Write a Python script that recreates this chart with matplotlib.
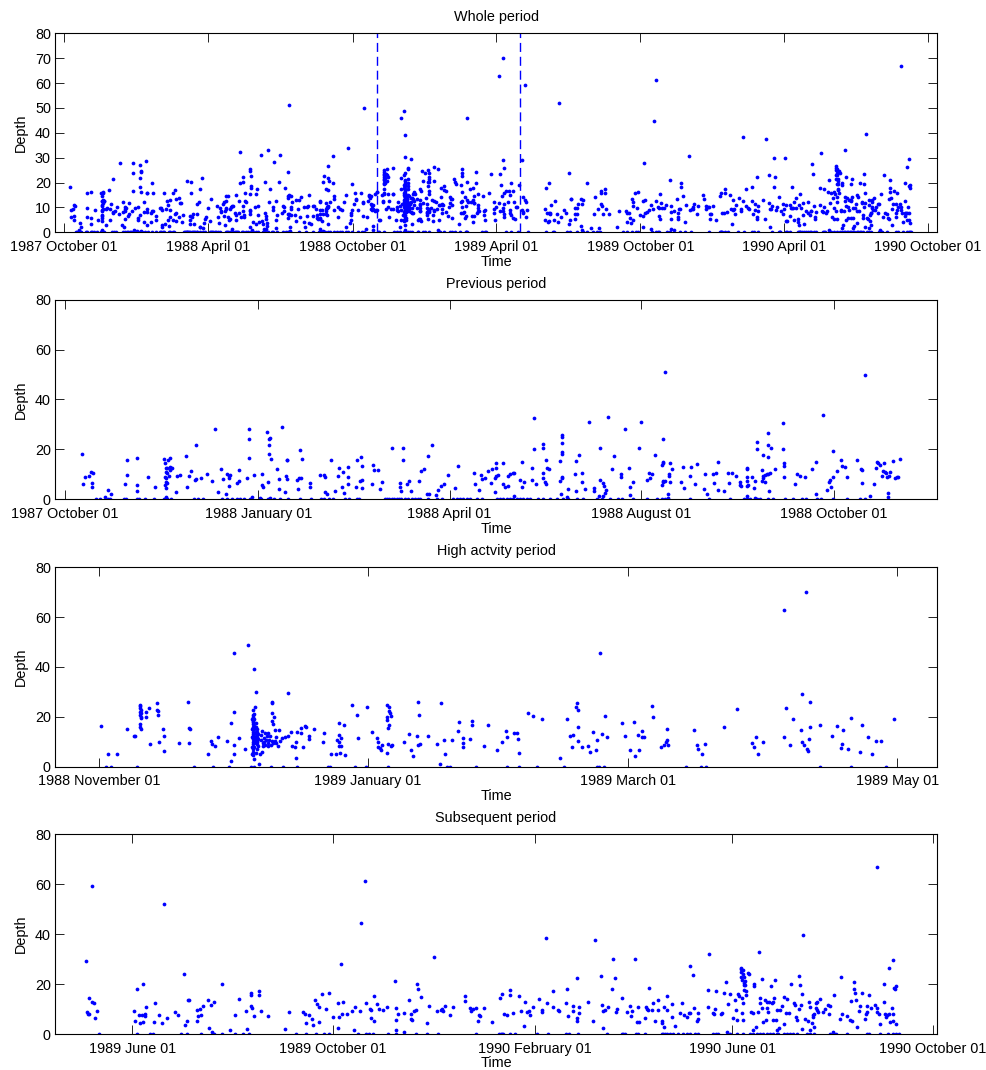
import numpy as np
import matplotlib
matplotlib.use("Agg")
import matplotlib.pyplot as plt
import matplotlib.dates as mdates

plt.rcParams['font.family'] = ['Liberation Sans', 'DejaVu Sans']
plt.rcParams['font.size'] = 10.4

# ---------------- data ----------------
# Previous period: days since 1987-10-01
prev_start = '1987-10-01'
prev_day = [
    7.9, 8.7, 9.5, 11.4, 12.4, 13.5, 12.7, 12.7, 19.0, 20.6,
    21.7, 28.6, 29.4, 29.7, 34.0, 34.0, 34.0, 39.4, 42.9, 47.3,
    47.6, 47.9, 48.1, 47.6, 47.9, 48.1, 47.6, 48.1, 48.4, 48.6,
    48.7, 49.2, 49.7, 49.7, 50.0, 50.3, 50.8, 49.5, 48.1, 47.8,
    52.7, 53.3, 54.8, 57.6, 57.9, 59.0, 59.8, 61.6, 62.1, 62.5,
    64.9, 67.5, 69.7, 71.4, 73.0, 74.3, 75.0, 76.7, 77.3, 77.8,
    77.9, 78.0, 78.6, 81.6, 82.7, 83.0, 86.8, 87.4, 87.4, 87.4,
    89.0, 89.7, 92.9, 93.7, 93.8, 94.4, 96.3, 96.8, 96.9, 97.1,
    97.4, 96.9, 97.9, 97.3, 101.0, 101.7, 102.0, 103.4, 104.9, 105.0,
    105.5, 105.8, 105.8, 110.3, 110.8, 111.1, 111.6, 112.3, 112.8, 116.6,
    116.6, 121.4, 123.4, 123.8, 123.8, 124.6, 126.7, 128.6, 129.8, 130.4,
    132.0, 132.5, 132.6, 134.5, 134.5, 134.5, 138.7, 138.8, 140.4, 140.7,
    141.5, 141.5, 141.5, 146.3, 146.5, 146.8, 148.7, 150.1, 151.0, 155.8,
    159.4, 159.4, 159.8, 160.7, 160.7, 162.9, 163.6, 164.7, 168.5, 169.3,
    170.8, 172.2, 172.8, 173.1, 174.7, 176.4, 177.5, 178.8, 180.5, 182.3,
    185.6, 186.9, 194.5, 195.3, 196.9, 198.1, 198.6, 199.7, 201.4, 202.6,
    203.4, 204.5, 204.5, 205.0, 205.3, 205.0, 206.0, 208.6, 208.6, 209.2,
    210.7, 210.9, 211.7, 213.3, 213.5, 213.9, 216.7, 217.6, 217.6, 218.4,
    222.0, 222.4, 223.4, 223.4, 224.0, 227.4, 227.4, 227.7, 227.6, 228.6,
    228.9, 229.1, 229.5, 230.3, 235.6, 235.6, 236.4, 236.4, 236.4, 236.5,
    236.7, 236.7, 236.7, 236.2, 238.8, 239.5, 242.6, 243.3, 243.4, 244.8,
    245.9, 246.1, 247.5, 249.5, 251.6, 251.9, 253.9, 254.5, 254.6, 255.8,
    256.2, 256.6, 256.9, 257.3, 258.6, 260.2, 261.1, 264.6, 264.6, 266.6,
    268.6, 268.8, 268.9, 270.4, 273.2, 273.9,
    276.9, 278.0, 278.5, 279.2, 280.8, 284.0, 284.3, 284.5, 284.5, 284.6,
    284.8, 284.8, 285.6, 285.6, 286.8, 287.5, 287.6, 287.9, 288.1, 288.8,
    287.2, 293.3, 294.3, 294.8, 297.2, 298.0, 299.9, 301.0, 304.0, 304.6,
    305.3, 308.4, 308.8, 310.0, 310.7, 310.8, 313.7, 315.6, 316.2, 317.3,
    319.4, 321.1, 321.3, 321.6, 324.4, 324.6, 324.4, 324.7, 324.6, 325.2,
    324.6, 327.0, 327.8, 328.3, 328.6, 329.1, 329.4, 331.9, 332.1, 331.9,
    332.1, 332.4, 333.2, 333.3, 334.0, 334.4, 334.4, 334.6, 334.8, 334.9,
    335.4, 335.9, 337.8, 341.6, 341.8, 342.1, 342.1, 342.4, 347.4, 348.2,
    350.0, 352.2, 355.7, 357.4, 357.4, 360.8, 362.5, 363.8, 364.1, 364.6,
    365.3, 365.7, 367.3, 369.5, 370.0, 371.0, 372.4, 376.8, 379.0, 379.3,
    379.5, 380.5, 383.3, 384.9, 386.2, 386.5, 386.8, 387.9, 389.0, 389.2,
    389.8, 390.3, 390.8, 391.1, 391.5, 391.9, 392.0, 392.5, 394.2, 395.0,
    395.8, 396.6, 397.4,
]
prev_depth = [
    18.2, 6.1, 9.1, 9.3, 10.8, 10.5, 6.7, 5.1, 1.0, 3.7,
    2.3, 6.0, 9.6, 15.8, 16.4, 5.6, 3.5, 8.9, 4.8, 16.0,
    14.4, 12.7, 11.1, 9.1, 8.4, 7.1, 5.7, 4.4, 6.4, 10.4,
    12.7, 15.8, 13.1, 11.7, 16.4, 12.4, 12.7, 9.5, 0.4, 0.9,
    3.1, 9.2, 9.9, 17.2, 4.9, 9.2, 11.5, 7.6, 8.1, 21.6,
    8.7, 10.3, 7.3, 28.0, 3.1, 12.3, 8.3, 2.1, 10.0, 5.5,
    8.4, 9.5, 9.6, 6.4, 7.3, 11.7, 8.4, 28.0, 24.0, 16.7,
    0.8, 9.7, 0.4, 10.1, 5.6, 5.1, 27.0, 6.8, 21.8, 24.2,
    24.6, 18.2, 16.2, 0.4, 12.3, 8.0, 4.0, 28.8, 2.9, 9.2,
    15.9, 15.6, 8.0, 7.9, 4.1, 8.7, 19.8, 8.7, 16.0, 6.4,
    4.9, 9.7, 9.6, 9.1, 3.1, 2.3, 15.6, 3.5, 9.2, 12.7,
    5.1, 11.1, 2.4, 13.1, 9.1, 6.3, 5.1, 15.8, 7.5, 17.1,
    13.5, 7.9, 4.7, 6.0, 13.8, 11.7, 11.7, 4.0, 7.1, 20.7,
    6.4, 5.1, 3.5, 20.4, 15.6, 6.0, 7.5, 3.5, 7.2, 11.2,
    12.3, 2.0, 17.5, 2.0, 21.9, 1.7, 3.7, 5.2, 6.1, 9.6,
    4.7, 13.5, 10.5, 6.1, 3.9, 9.9, 8.3, 8.7, 11.5, 6.7,
    12.3, 8.4, 2.8, 12.7, 9.3, 14.4, 9.9, 14.4, 6.3, 4.8,
    9.2, 5.5, 10.0, 10.5, 1.5, 10.4, 7.7, 4.8, 15.1, 6.8,
    7.7, 12.4, 32.4, 20.0, 6.3, 8.4, 20.4, 22.3, 10.4, 7.1,
    6.3, 15.8, 12.7, 12.1, 7.5, 15.4, 8.5, 9.1, 25.6, 24.8,
    22.6, 18.8, 18.0, 2.1, 0.8, 4.0, 10.0, 15.4, 3.5, 17.6,
    10.5, 6.8, 4.0, 31.1, 4.7, 3.5, 1.5, 20.4, 7.9, 6.4,
    1.5, 5.3, 2.4, 3.7, 33.1, 12.0, 17.5, 8.9, 10.0, 28.3,
    12.4, 4.9, 1.7, 7.1, 20.4, 31.1,
    7.7, 10.7, 8.4, 10.0, 17.9, 5.7, 13.8, 14.4, 7.5, 24.3,
    14.8, 7.1, 51.1, 7.3, 2.1, 10.1, 9.3, 7.1, 14.6, 12.3,
    0.4, 6.9, 13.1, 4.7, 9.2, 12.8, 6.0, 14.2, 4.1, 10.1,
    2.3, 10.3, 6.5, 10.5, 15.1, 3.9, 3.3, 10.4, 6.4, 10.4,
    9.3, 6.8, 5.7, 5.3, 12.7, 12.0, 9.1, 7.3, 5.3, 5.7,
    1.3, 9.1, 4.5, 0.4, 7.5, 20.3, 22.8, 7.5, 17.6, 11.7,
    8.4, 9.5, 9.7, 7.1, 10.0, 26.7, 21.8, 17.0, 10.3, 3.3,
    10.5, 20.7, 12.0, 30.6, 20.0, 14.7, 13.4, 8.8, 6.0, 10.1,
    9.5, 9.1, 12.0, 15.1, 2.3, 33.8, 3.6, 6.9, 7.7, 4.8,
    9.1, 19.5, 11.3, 15.6, 13.4, 13.1, 9.1, 15.6, 12.0, 11.6,
    6.4, 49.9, 1.5, 6.0, 12.7, 15.1, 14.4, 13.6, 9.3, 11.5,
    14.7, 11.1, 10.7, 8.8, 2.4, 0.9, 9.2, 11.0, 15.4, 8.7,
    8.8, 8.9, 16.2,
]
prev_zero_day = [
    14.8, 16.7, 20.6, 21.4, 28.1, 29.0, 34.1, 35.1, 38.1, 42.1, 47.1, 48.4,
    50.3, 61.4, 63.3, 65.6, 74.6, 77.0, 79.4, 81.7, 83.3, 85.2, 88.1, 93.2,
    96.8, 99.2, 102.4, 106.3, 111.9, 117.0, 121.9, 123.0, 125.4, 127.3,
    133.3, 134.9, 138.8, 139.9, 152.3, 153.4, 154.4, 155.5, 156.6, 157.9,
    159.0, 159.9, 161.8, 163.4, 165.0, 166.6, 168.2, 169.0, 172.9, 176.9,
    179.3, 184.8, 186.4, 188.0, 189.6, 191.2, 192.8, 195.9, 198.3, 205.5,
    207.0, 208.6, 210.2, 211.8, 213.4, 215.0, 216.6, 218.1, 219.7, 221.3,
    225.3, 227.7, 230.8, 234.0, 237.2, 239.6, 243.5, 246.7, 253.0, 255.4,
    259.4, 263.4, 265.0, 270.5,
    277.2, 281.6, 284.0, 285.3, 287.2, 297.5, 306.4, 316.5, 323.3, 324.5,
    326.0, 329.2, 330.8, 334.8, 337.1, 342.7, 346.3, 350.6, 352.7, 357.8,
    359.7, 365.7, 372.4, 378.4, 380.8,
]

# High activity period: days since 1988-11-01
high_start = '1988-11-01'
high_day = [
    0.5, 2.1, 4.1, 6.4, 7.9, 8.2, 9.2, 9.2, 9.3, 9.4,
    9.2, 9.4, 9.2, 9.4, 9.5, 9.2, 9.3, 9.5, 10.6, 10.7,
    11.3, 11.5, 13.1, 13.2, 13.4, 13.3, 13.5, 14.6, 14.8, 14.7,
    18.2, 20.2, 20.3, 20.6, 20.4, 24.7, 25.3, 25.6, 26.3, 27.0,
    29.0, 29.8, 30.0, 30.6, 30.6, 30.6, 30.6, 31.8, 33.0, 33.8,
    34.6, 34.6, 34.6, 34.6, 34.6, 34.8, 34.8, 34.8, 34.8, 34.8,
    34.8, 34.8, 35.0, 35.0, 35.0, 35.0, 35.0, 35.0, 35.0, 35.0,
    35.0, 35.0, 35.2, 35.2, 35.2, 35.2, 35.2, 35.2, 35.2, 35.2,
    35.2, 35.2, 35.3, 35.5, 35.5, 35.5, 35.5, 35.5, 35.5, 35.5,
    35.5, 35.5, 35.7, 35.7, 35.7, 35.7, 35.7, 35.9, 35.9, 35.9,
    35.9, 36.1, 36.1, 36.1, 36.2, 36.4, 36.9, 36.6, 36.7, 37.0,
    37.1, 37.2, 37.4, 37.4, 37.6, 37.7, 37.9, 38.0, 38.2, 38.3,
    38.4, 38.6, 38.7, 38.9, 39.1, 39.1, 39.2, 39.2, 39.3, 39.5,
    39.5, 39.7, 39.9, 39.9, 40.1, 40.2, 40.6, 40.7, 41.0, 41.5,
    42.1, 42.8, 42.9, 43.6, 43.8, 44.4, 44.6, 44.6, 44.8, 45.8,
    45.8, 46.3, 46.7, 47.0, 47.6, 47.6, 48.7, 50.7, 50.9, 52.6,
    53.8, 54.0, 54.3, 54.3, 54.4, 54.5,
    54.8, 54.8, 54.7, 55.6, 55.7, 57.4, 58.4, 58.7, 60.8, 61.9,
    63.1, 63.3, 63.3, 63.7, 63.9, 64.2, 65.2, 65.2, 65.2, 65.2,
    65.6, 65.6, 65.7, 65.7, 65.8, 65.9, 66.2, 66.2, 66.5, 69.1,
    70.2, 70.8, 71.2, 72.1, 72.4, 72.4, 72.6, 72.7, 74.5, 76.6,
    77.4, 77.5, 78.1, 78.5, 80.1, 81.3, 81.6, 82.6, 82.6, 82.6,
    84.0, 84.5, 84.5, 87.3, 88.2, 90.3, 91.3, 92.2, 92.6, 94.1,
    94.7, 95.0, 95.3, 97.3, 98.5, 100.5, 104.5, 106.2, 106.7, 107.2,
    107.4, 108.1, 108.4, 108.5, 108.5, 108.5, 109.5, 110.8, 111.3, 112.0,
    112.7, 112.9, 113.6, 114.0, 114.7, 115.2, 118.6, 119.2, 120.4, 121.4,
    121.6, 122.2, 122.5,
    123.0, 123.2, 123.6, 125.4, 125.7, 127.4, 128.2, 128.5, 128.7, 128.8,
    129.0, 135.0, 135.6, 135.7, 136.6, 137.5, 141.7, 144.7, 148.1, 148.6,
    149.0, 149.4, 150.5, 155.2, 155.4, 155.7, 156.7, 157.4, 159.1, 159.4,
    159.4, 159.8, 160.4, 160.6, 160.8, 161.0, 161.3, 161.3, 163.4, 166.3,
    167.3, 168.2, 168.4, 168.7, 169.9, 170.4, 172.5, 172.9, 174.4, 175.3,
    176.1, 177.4, 180.2,
]
high_depth = [
    16.2, 4.9, 4.9, 15.0, 12.2, 12.4, 24.9, 24.2, 23.5, 22.9,
    22.1, 21.5, 20.9, 19.9, 19.5, 17.3, 15.8, 15.3, 21.9, 19.9,
    23.5, 9.2, 25.6, 22.9, 22.2, 20.6, 10.0, 15.3, 12.4, 6.2,
    9.4, 26.0, 15.5, 15.3, 9.5, 4.9, 10.2, 9.0, 8.4, 12.0,
    10.4, 2.3, 17.4, 45.8, 21.8, 8.8, 4.9, 11.4, 7.1, 48.8,
    5.0, 8.0, 12.0, 15.0, 19.0, 22.9, 4.5, 7.0, 10.0, 13.0,
    16.0, 18.0, 20.7, 6.0, 9.0, 11.0, 12.5, 14.0, 15.5, 17.0,
    18.5, 20.0, 39.1, 3.0, 8.0, 10.5, 12.0, 13.5, 15.0, 16.5,
    19.0, 21.0, 23.9, 30.1, 5.5, 9.5, 11.0, 12.0, 13.0, 14.0,
    16.0, 17.5, 10.0, 11.5, 13.0, 15.0, 7.0, 9.0, 12.0, 14.0,
    10.5, 11.0, 13.0, 8.5, 0.9, 4.9, 5.8, 10.8, 12.8, 14.2,
    9.5, 8.2, 11.5, 9.8, 13.5, 8.8, 10.8, 12.4, 9.5, 8.4,
    13.5, 10.6, 12.2, 8.8, 21.4, 26.0, 25.6, 10.2, 18.5, 9.5,
    17.3, 19.9, 10.4, 14.8, 11.9, 9.5, 8.4, 14.6, 10.2, 11.5,
    11.8, 29.6, 12.2, 13.9, 8.2, 7.8, 9.8, 3.5, 13.9, 13.5,
    15.5, 7.8, 16.2, 15.9, 12.4, 11.1, 15.3, 9.8, 13.5, 4.9,
    5.2, 10.8, 17.5, 12.8, 9.8, 8.4,
    11.5, 8.4, 5.5, 16.7, 4.5, 24.7, 20.6, 11.6, 23.9, 13.9,
    11.4, 9.8, 8.0, 7.6, 6.8, 8.7, 5.5, 24.9, 20.1, 18.6,
    15.5, 9.2, 23.9, 16.6, 22.2, 21.5, 20.2, 8.2, 8.6, 9.8,
    13.1, 6.8, 4.4, 12.4, 26.1, 8.6, 20.6, 9.1, 12.2, 9.2,
    1.1, 25.4, 10.8, 4.9, 10.8, 14.2, 17.9, 11.4, 9.4, 7.8,
    11.0, 18.5, 16.9, 8.2, 16.6, 6.6, 10.0, 14.2, 11.8, 13.4,
    13.4, 11.1, 5.6, 21.4, 20.3, 19.3, 3.3, 19.0, 12.2, 7.9,
    12.6, 23.9, 25.6, 22.6, 16.1, 10.3, 7.8, 8.2, 5.9, 14.0,
    6.7, 10.7, 45.8, 13.1, 20.2, 12.0, 17.4, 12.3, 6.6, 17.9,
    4.3, 12.8, 6.7,
    14.4, 11.9, 11.8, 24.2, 19.9, 7.9, 8.6, 9.8, 15.3, 10.8,
    8.6, 14.6, 8.6, 7.1, 5.1, 9.1, 15.8, 23.3, 9.4, 7.8,
    12.0, 4.9, 10.0, 62.7, 11.8, 23.5, 8.6, 19.1, 14.7, 29.0,
    9.8, 8.6, 70.1, 7.2, 6.2, 11.2, 25.8, 15.8, 16.6, 12.3,
    16.5, 7.6, 9.1, 14.8, 7.1, 19.7, 5.8, 16.7, 12.0, 5.2,
    10.2, 10.2, 19.0,
]
high_zero_day = [
    1.5, 2.6, 8.7, 21.6, 25.8, 29.5, 34.4, 35.2, 39.0, 41.7, 44.8, 51.9,
    52.3, 58.0, 60.5, 65.6, 79.0, 79.6, 85.4, 92.5, 95.3, 99.4, 105.5,
    112.8, 113.4, 114.5, 133.1, 136.5, 137.7, 163.5, 170.4, 178.4,
]

# Subsequent period: days since 1989-05-01
sub_start = '1989-05-01'
sub_day = [
    2.6, 3.2, 3.8, 4.8, 4.8, 6.3, 6.5, 7.9, 8.5, 9.7,
    32.2, 32.4, 33.6, 35.3, 35.7, 36.7, 37.7, 37.7, 38.7, 38.9,
    39.3, 44.0, 45.0, 47.4, 49.2, 50.5, 52.3, 56.7, 58.9, 62.6,
    63.2, 64.3, 64.7, 65.3, 70.5, 70.5, 70.7, 72.2, 72.6, 73.8,
    77.2, 77.6, 78.9, 79.5, 80.7, 85.3, 90.4, 93.7, 95.9, 99.9,
    100.5, 103.0, 103.0, 103.0, 104.0, 105.2, 108.0, 108.0, 109.3, 113.5,
    124.0, 126.1, 134.8, 136.0, 136.4, 138.3, 140.1, 141.1, 142.3, 143.5,
    144.3, 144.3, 146.2, 148.6, 150.4, 153.1, 156.3, 156.3, 156.9,
    157.9, 158.5, 158.9, 161.4, 164.4, 166.0, 166.2, 169.7, 170.1, 172.7,
    173.2, 175.8, 176.2, 176.2, 178.0, 178.2, 179.7, 180.9, 183.7, 186.2,
    191.0, 191.4, 191.4, 191.4, 192.4, 196.3, 196.3, 199.1, 200.3, 200.7,
    201.1, 202.6, 203.6, 204.2, 205.0, 206.6, 210.1, 211.3, 214.3, 216.3,
    219.0, 219.6, 220.2, 221.2, 224.5, 226.3, 233.2, 233.4, 236.4, 236.9,
    238.5, 239.9, 241.1, 241.7, 242.6, 245.2, 249.5, 254.7, 255.7, 257.0,
    259.0, 260.8, 260.8, 262.4, 266.4, 267.5, 269.3, 270.1, 270.9, 272.1,
    272.9, 274.8, 278.6, 280.2, 280.2, 282.7, 283.1, 286.7, 287.1, 290.0,
    290.7, 294.6, 295.2, 296.0, 298.9, 298.9, 301.3, 301.3, 301.5, 302.5,
    302.9, 308.4, 311.2, 312.3, 315.9, 316.7, 317.2, 317.4, 318.2, 320.6,
    322.6, 323.1, 324.3, 325.1, 325.9, 328.9, 332.0, 333.8, 334.6, 335.2,
    336.9, 337.8, 338.3, 339.1,
    342.9, 343.5, 343.9, 344.9, 345.3, 346.9, 347.9, 348.6, 350.6, 351.0,
    353.1, 353.3, 354.3, 354.5, 356.1, 356.5, 359.3, 359.1, 360.9, 363.8,
    365.6, 366.4, 368.6, 369.6, 370.2, 370.4, 372.3, 372.9, 374.3, 374.9,
    375.3, 380.9, 381.9, 380.9, 383.9, 384.7, 385.5, 386.2, 389.0, 389.6,
    390.8, 391.8, 392.4, 393.4, 394.6, 396.1, 397.5, 398.3, 398.5, 399.2,
    399.8, 400.9, 401.3, 401.5, 401.3, 401.7, 402.3, 402.7, 403.1, 403.3,
    402.9, 403.7, 403.9, 403.3, 404.1, 404.5, 402.1, 401.9, 402.3, 402.7,
    405.7, 406.1, 407.1, 408.2, 408.8, 409.0, 409.2, 410.2, 411.4, 412.2,
    412.8, 413.0, 413.8, 414.0, 414.4, 415.7, 416.3, 416.9, 417.3, 417.9,
    418.5, 419.7, 419.9, 420.5, 420.9, 421.3, 422.1, 422.3, 422.9, 423.2,
    424.2, 425.0, 426.4, 427.4, 427.4, 428.4, 429.0, 430.5, 431.9, 433.7,
    433.9, 434.9, 435.1, 436.5, 436.7, 437.2, 437.6, 438.0, 438.2, 439.2,
    440.2, 442.2, 442.8, 443.2, 443.2, 444.2, 444.9, 445.1, 445.7, 445.9,
    446.7, 446.7, 447.3, 447.5, 448.3, 449.5, 450.9, 452.0, 454.2, 454.8,
    455.6, 457.2, 457.8, 461.5, 461.9, 462.9, 465.9, 467.4, 468.2, 468.6,
    469.8, 470.0, 470.4, 471.0, 471.8, 472.8, 473.7, 474.5, 476.9, 477.1,
    477.7, 478.1, 478.9, 480.5, 482.8, 483.8, 484.0, 484.2, 485.4, 485.8,
    488.2, 488.2, 488.7, 489.3, 490.1, 491.1, 491.3, 491.9, 493.1, 493.7,
    493.7, 493.9, 494.3, 494.9, 495.3, 495.5,
]
sub_depth = [
    29.2, 8.9, 8.0, 7.9, 14.3, 59.3, 13.0, 12.3, 6.3, 9.1,
    9.3, 5.1, 17.9, 7.6, 4.3, 7.6, 20.0, 4.7, 7.2, 7.9,
    10.8, 4.9, 12.4, 7.5, 4.3, 51.9, 6.3, 8.9, 7.7, 23.9,
    3.5, 5.1, 13.5, 13.5, 9.6, 5.2, 7.2, 9.9, 7.5, 11.3,
    13.5, 2.4, 11.5, 0.9, 12.8, 20.0, 1.7, 7.5, 14.0, 9.3,
    1.9, 16.6, 15.6, 11.3, 10.5, 7.2, 17.4, 15.6, 9.3, 7.2,
    2.0, 8.7, 8.7, 7.9, 4.3, 7.6, 5.9, 3.7, 13.5, 12.0,
    10.7, 4.9, 15.9, 9.9, 16.3, 6.8, 12.6, 2.3, 6.7,
    27.9, 7.9, 13.0, 8.0, 9.1, 1.5, 10.9, 9.3, 44.6, 61.3,
    12.6, 10.1, 9.6, 6.4, 15.2, 5.2, 11.9, 9.9, 9.7, 10.8,
    21.2, 10.4, 5.5, 1.5, 8.0, 8.5, 0.8, 13.5, 7.9, 6.0,
    5.5, 9.3, 9.5, 20.0, 18.2, 14.7, 4.3, 11.1, 30.7, 9.1,
    9.5, 10.0, 9.2, 11.3, 7.5, 10.7, 15.1, 13.4, 10.5, 9.3,
    10.1, 10.3, 5.2, 7.5, 7.3, 10.4, 4.9, 14.4, 16.0, 7.9,
    7.7, 17.5, 15.8, 8.3, 15.1, 9.2, 3.3, 13.0, 8.8, 9.3,
    7.5, 10.8, 13.9, 9.5, 8.7, 38.3, 12.4, 17.4, 10.7, 9.7,
    9.3, 12.4, 18.2, 7.2, 11.2, 9.1, 6.3, 5.3, 22.4, 10.7,
    8.5, 12.8, 5.2, 37.7, 23.2, 11.6, 9.2, 2.3, 9.5, 10.7,
    18.2, 29.9, 22.3, 8.9, 10.0, 14.3, 8.7, 11.3, 7.2, 9.3,
    30.0, 4.7, 10.9, 4.7,
    6.5, 10.9, 9.9, 9.6, 18.4, 9.6, 12.3, 5.1, 9.6, 13.6,
    5.2, 4.3, 10.9, 2.9, 15.4, 9.6, 6.9, 11.9, 3.2, 8.5,
    12.3, 7.7, 6.9, 8.5, 8.5, 27.4, 23.5, 10.4, 5.2, 6.0,
    8.3, 17.8, 31.9, 10.8, 8.5, 8.0, 10.1, 17.4, 7.9, 8.5,
    16.3, 21.0, 0.8, 11.9, 16.0, 6.3, 13.8, 9.6, 5.5, 16.2,
    15.2, 25.9, 26.6, 25.0, 23.0, 21.6, 24.0, 25.6, 23.0, 20.6,
    19.6, 19.6, 21.4, 17.6, 17.1, 15.6, 14.3, 8.5, 5.5, 12.3,
    24.6, 23.9, 8.9, 8.4, 1.6, 20.0, 19.2, 2.9, 8.7, 32.9,
    12.5, 14.3, 22.1, 10.5, 4.9, 13.6, 5.6, 10.3, 13.0, 8.9,
    13.0, 19.4, 12.6, 13.0, 5.6, 14.3, 21.6, 5.6, 9.6, 1.6,
    2.5, 9.7, 11.3, 14.9, 3.9, 8.5, 14.0, 8.5, 19.9, 12.3,
    11.6, 6.9, 5.6, 10.0, 23.4, 19.6, 11.6, 15.9, 2.1, 39.7,
    5.9, 5.3, 13.0, 11.0, 1.6, 4.5, 6.9, 7.6, 7.9, 2.9,
    10.3, 12.3, 9.6, 13.0, 8.9, 13.9, 8.9, 10.0, 11.5, 7.9,
    11.4, 0.9, 15.5, 6.0, 22.9, 7.9, 7.2, 5.6, 13.2, 5.3,
    17.9, 20.9, 16.3, 13.6, 2.9, 9.3, 11.3, 16.5, 6.0, 7.9,
    11.2, 9.0, 15.7, 10.3, 11.5, 10.3, 9.0, 67.0, 7.9, 4.0,
    12.7, 19.9, 7.9, 6.7, 7.6, 7.9, 26.3, 5.0, 10.3, 29.6,
    5.1, 7.9, 18.5, 18.0, 19.2, 3.9,
]
sub_zero_day = [
    10.5, 33.6, 41.7, 43.8, 60.4, 64.3, 72.6, 80.7, 85.3, 93.5, 98.3, 102.0,
    130.6, 136.4, 142.9, 147.6, 150.4,
    168.5, 173.1, 175.2, 177.2, 186.7, 191.2, 203.3, 210.1, 217.2, 239.9,
    254.3, 255.1, 255.9, 256.7, 260.8, 263.8, 277.0, 284.1, 294.8, 296.8,
    302.3, 319.5, 328.7, 329.7, 330.7, 337.4, 338.8,
    342.9, 353.0, 354.0, 355.0, 356.0, 358.1, 360.1, 363.1, 366.2, 368.2,
    370.2, 373.3, 375.3, 384.4, 386.1, 387.5, 394.6, 398.6, 402.7, 406.7,
    408.4, 410.8, 412.8, 414.8, 416.9, 418.9, 420.9, 422.9, 424.0, 427.4,
    429.0, 431.1, 433.1, 435.1, 441.2, 443.2, 445.3, 455.4, 457.8, 459.0,
    465.5, 477.7, 479.3, 485.8, 490.9, 493.9, 495.5, 497.0,
]

# period boundaries (dashed lines on the whole-period panel)
boundaries = ['1988-11-01', '1989-05-01']

# tick dates and labels
whole_ticks = ['1987-10-01', '1988-04-01', '1988-10-01', '1989-04-01',
               '1989-10-01', '1990-04-01', '1990-10-01']
whole_labels = ['1987 October 01', '1988 April 01', '1988 October 01',
                '1989 April 01', '1989 October 01', '1990 April 01',
                '1990 October 01']
prev_ticks = ['1987-10-01', '1988-01-01', '1988-04-01', '1988-07-01', '1988-10-01']
prev_labels = ['1987 October 01', '1988 January 01', '1988 April 01',
               '1988 August 01', '1988 October 01']
high_ticks = ['1988-11-01', '1989-01-01', '1989-03-01', '1989-05-01']
high_labels = ['1988 November 01', '1989 January 01', '1989 March 01', '1989 May 01']
sub_ticks = ['1989-06-01', '1989-10-01', '1990-02-01', '1990-06-01', '1990-10-01']
sub_labels = ['1989 June 01', '1989 October 01', '1990 February 01',
              '1990 June 01', '1990 October 01']

titles = ['Whole period', 'Previous period', 'High actvity period', 'Subsequent period']

# ---------------- helpers ----------------
def dnum(s):
    return mdates.date2num(np.datetime64(s))


def series(start, days, depth, zeros):
    d = np.asarray(days, float)
    v = np.asarray(depth, float)
    n = min(len(d), len(v))
    x = np.concatenate([d[:n], np.asarray(zeros, float)]) + dnum(start)
    y = np.concatenate([v[:n], np.zeros(len(zeros))])
    return x, y


prev_x, prev_y = series(prev_start, prev_day, prev_depth, prev_zero_day)
high_x, high_y = series(high_start, high_day, high_depth, high_zero_day)
sub_x, sub_y = series(sub_start, sub_day, sub_depth, sub_zero_day)

W, H = 986, 1070
fig = plt.figure(figsize=(W / 100, H / 100), dpi=100)
fig.patch.set_facecolor('white')


def make_ax(top_px, bottom_px):
    return fig.add_axes([55 / W, 1 - bottom_px / H, (937 - 55) / W,
                         (bottom_px - top_px) / H])


def dots(ax, x, y):
    ax.plot(x, y, linestyle='none', marker='o', ms=2.7, mew=0,
            color='#0000ff', clip_on=True)


def style(ax, title, yticks, ticks, labels, xlim):
    ax.set_ylim(0, 80)
    ax.set_yticks(yticks)
    ax.set_xlim(*xlim)
    ax.set_xticks([dnum(t) for t in ticks])
    ax.set_xticklabels(labels)
    ax.tick_params(direction='in', length=6.3, width=0.6, top=True,
                   right=True, labelsize=10.4, colors='black')
    ax.tick_params(axis='x', pad=5.5)
    ax.tick_params(axis='y', pad=3)
    for s in ax.spines.values():
        s.set_linewidth(0.8)
    ax.set_title(title, fontsize=10.4, pad=8.5)
    ax.set_xlabel('Time', fontsize=10.4, labelpad=0.5)
    ax.set_ylabel('Depth', fontsize=10.4, labelpad=5)


# Whole period
ax1 = make_ax(33.3, 232.3)
for x, y in [(prev_x, prev_y), (high_x, high_y), (sub_x, sub_y)]:
    dots(ax1, x, y)
for b in boundaries:
    ax1.axvline(dnum(b), color='#0000ff', lw=1.0, ls=(0, (6.5, 3.5)))
style(ax1, titles[0], np.arange(0, 81, 10), whole_ticks, whole_labels,
      (dnum('1987-10-01') - 11.4, dnum('1990-10-01') + 11.4))

# Previous period
ax2 = make_ax(299.7, 499.3)
dots(ax2, prev_x, prev_y)
style(ax2, titles[1], np.arange(0, 81, 20), prev_ticks, prev_labels,
      (dnum('1987-10-01') - 4.8, dnum('1987-10-01') + 415))

# High activity period
ax3 = make_ax(567.3, 766.7)
dots(ax3, high_x, high_y)
style(ax3, titles[2], np.arange(0, 81, 20), high_ticks, high_labels,
      (dnum('1988-11-01') - 10.0, dnum('1988-11-01') + 190.0))

# Subsequent period
ax4 = make_ax(834.3, 1034.0)
dots(ax4, sub_x, sub_y)
style(ax4, titles[3], np.arange(0, 81, 20), sub_ticks, sub_labels,
      (dnum('1989-05-01') - 16.0, dnum('1989-05-01') + 520.4))

fig.savefig('out.png', dpi=100, facecolor='white')
